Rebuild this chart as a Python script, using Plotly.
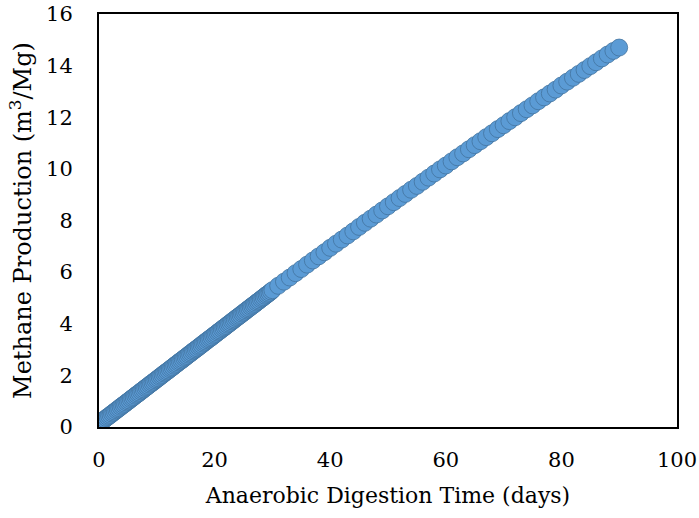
import plotly.graph_objects as go

# Dense early readings (0 - 29.75 days, every quarter day)
early_days = [i * 0.25 for i in range(120)]
early_methane = [
    0.12, 0.17, 0.22, 0.26, 0.30, 0.35, 0.39, 0.43, 0.47, 0.52,
    0.56, 0.60, 0.65, 0.69, 0.73, 0.78, 0.82, 0.86, 0.90, 0.95,
    0.99, 1.03, 1.08, 1.12, 1.16, 1.21, 1.25, 1.29, 1.33, 1.38,
    1.42, 1.46, 1.51, 1.55, 1.59, 1.64, 1.68, 1.72, 1.76, 1.81,
    1.85, 1.89, 1.94, 1.98, 2.02, 2.07, 2.11, 2.15, 2.19, 2.24,
    2.28, 2.32, 2.37, 2.41, 2.45, 2.50, 2.54, 2.58, 2.62, 2.67,
    2.71, 2.75, 2.80, 2.84, 2.88, 2.93, 2.97, 3.01, 3.05, 3.10,
    3.14, 3.18, 3.23, 3.27, 3.31, 3.36, 3.40, 3.44, 3.48, 3.53,
    3.57, 3.61, 3.66, 3.70, 3.74, 3.79, 3.83, 3.87, 3.91, 3.96,
    4.00, 4.04, 4.09, 4.13, 4.17, 4.22, 4.26, 4.30, 4.34, 4.39,
    4.43, 4.47, 4.52, 4.56, 4.60, 4.65, 4.69, 4.73, 4.77, 4.82,
    4.86, 4.90, 4.95, 4.99, 5.03, 5.08, 5.12, 5.16, 5.20, 5.25,
]

# Daily readings (30 - 90 days)
late_days = list(range(30, 91))
late_methane = [
    5.30, 5.47, 5.63, 5.79, 5.96, 6.12, 6.29, 6.45, 6.61, 6.77,
    6.94, 7.10, 7.26, 7.42, 7.58, 7.75, 7.91, 8.07, 8.23, 8.39,
    8.55, 8.71, 8.87, 9.03, 9.19, 9.34, 9.50, 9.66, 9.82, 9.98,
    10.13, 10.29, 10.45, 10.60, 10.76, 10.92, 11.07, 11.23, 11.38, 11.54,
    11.69, 11.85, 12.00, 12.16, 12.31, 12.46, 12.62, 12.77, 12.92, 13.07,
    13.23, 13.38, 13.53, 13.68, 13.83, 13.98, 14.13, 14.28, 14.43, 14.57,
    14.70,
]

x_ticks = [0, 20, 40, 60, 80, 100]
y_ticks = [0, 2, 4, 6, 8, 10, 12, 14, 16]

days = early_days + late_days
methane = early_methane + late_methane

FONT = "DejaVu Serif"

fig = go.Figure()
fig.add_trace(go.Scatter(
    x=days, y=methane, mode="markers",
    marker=dict(size=17, color="#5B9BD5", line=dict(color="#41719C", width=0.75)),
    showlegend=False,
))

axis_common = dict(
    showgrid=False, zeroline=False, showline=True, linecolor="black",
    linewidth=2, mirror=True, ticks="", tickfont=dict(family=FONT, size=21, color="black"),
)

fig.update_layout(
    width=699, height=518,
    margin=dict(l=99, r=22, t=14, b=91, autoexpand=False),
    paper_bgcolor="white", plot_bgcolor="white",
    font=dict(family=FONT, size=21, color="black"),
    xaxis=dict(
        range=[0, 100], tickvals=x_ticks, ticklabelstandoff=13,
        title=dict(text="Anaerobic Digestion Time (days)", font=dict(family=FONT, size=22), standoff=16),
        automargin=False,
        **axis_common,
    ),
    yaxis=dict(
        range=[0, 16], tickvals=y_ticks, ticklabelstandoff=20,
        title=dict(text="Methane Production (m<sup>3</sup>/Mg)", font=dict(family=FONT, size=24), standoff=8),
        automargin=False,
        **axis_common,
    ),
)

fig.write_html("out.html")
